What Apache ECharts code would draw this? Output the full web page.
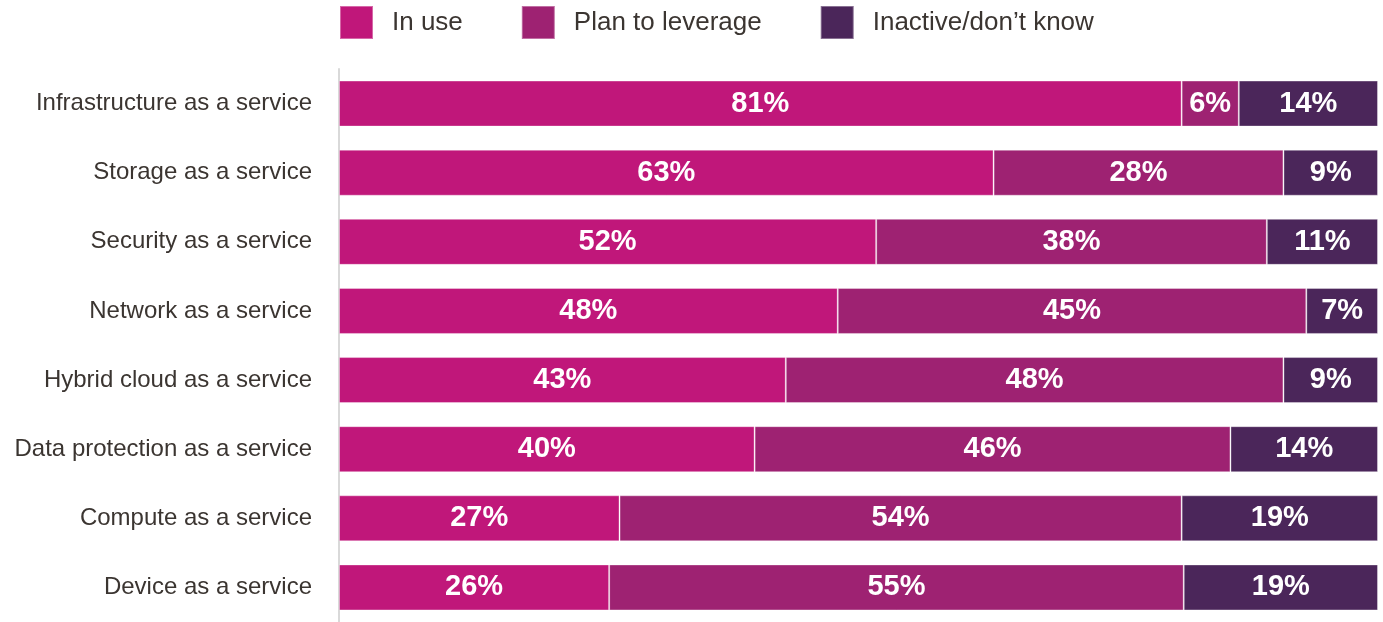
<!DOCTYPE html>
<html><head><meta charset="utf-8">
<script src="https://cdn.jsdelivr.net/npm/echarts@6/dist/echarts.min.js"></script>
<style>html,body{margin:0;padding:0;background:#fff}#c{width:1383px;height:622px}</style>
</head><body><div id="c"></div>
<script>
const categories = ["Infrastructure as a service","Storage as a service","Security as a service","Network as a service","Hybrid cloud as a service","Data protection as a service","Compute as a service","Device as a service"];
const inUse     = [81.1, 63.0, 51.7, 48.0, 43.0, 40.0, 27.0, 26.0];
const planTo    = [5.5, 27.9, 37.6, 45.1, 47.9, 45.8, 54.1, 55.3];
const inactive  = [13.4, 9.1, 10.7, 6.9, 9.1, 14.2, 18.9, 18.7];
const inUseLabels    = [81, 63, 52, 48, 43, 40, 27, 26];
const planToLabels   = [6, 28, 38, 45, 48, 46, 54, 55];
const inactiveLabels = [14, 9, 11, 7, 9, 14, 19, 19];
const seriesNames = ["In use", "Plan to leverage", "Inactive/don\u2019t know"];
const colors = ["#C0177A", "#9E2272", "#4B265A"];

const chart = echarts.init(document.getElementById('c'), null, {renderer:'canvas'});
const font = "Liberation Sans, Arial, sans-serif";
function mk(name, data, labels, color){
  return {
    name, type:'bar', stack:'all', data, barWidth:46,
    itemStyle:{color, borderColor:'rgba(255,255,255,0.35)', borderWidth:1},
    label:{show:true, position:'inside', color:'#fff', fontSize:29, fontWeight:'bold', fontFamily:font,
      formatter:p=>labels[p.dataIndex]+'%'},
    emphasis:{disabled:true}
  };
}
chart.setOption({
  animation:false,
  color:colors,
  legend:{left:339, top:5, padding:0, itemWidth:33, itemHeight:33, itemGap:58, icon:'rect',
    textStyle:{fontSize:26, color:'#3b3531', fontFamily:font, padding:[0,0,0,14]},
    data:seriesNames},
  grid:{left:339, right:5, top:69, bottom:-4, containLabel:false},
  xAxis:{type:'value', min:0, max:100, show:false},
  yAxis:{type:'category', data:categories, inverse:true,
    axisLine:{show:true, lineStyle:{color:'#d9d9d9', width:2}},
    axisTick:{show:false},
    axisLabel:{fontSize:24, color:'#3b3531', fontFamily:font, margin:27}},
  series:[mk(seriesNames[0], inUse, inUseLabels, colors[0]),
          mk(seriesNames[1], planTo, planToLabels, colors[1]),
          mk(seriesNames[2], inactive, inactiveLabels, colors[2])]
});
</script></body></html>
